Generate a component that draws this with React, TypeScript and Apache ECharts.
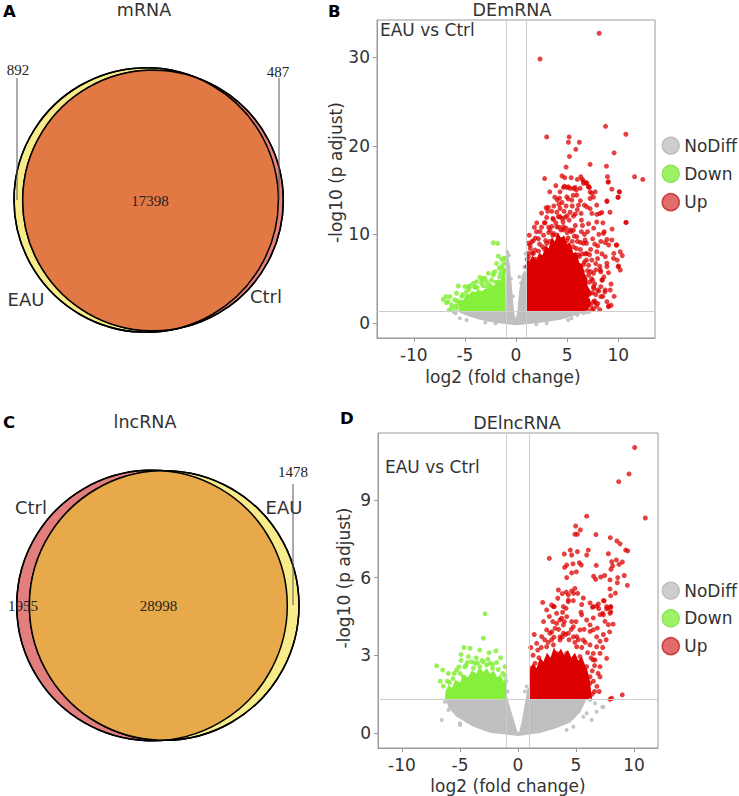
import React, { useEffect, useRef } from "react";
import * as echarts from "echarts";

const FONT = "'DejaVu Sans', 'Liberation Sans', sans-serif";
const SERIF = "'Liberation Serif', 'DejaVu Serif', serif";

// ---------- Venn data ----------
const mrnaSetNames = ["EAU", "Ctrl"];
const mrnaCounts = [892, 17398, 487]; // EAU only, both, Ctrl only
const lncSetNames = ["Ctrl", "EAU"];
const lncCounts = [1955, 28998, 1478]; // Ctrl only, both, EAU only

// ---------- labels ----------
const panelLetters = ["A", "B", "C", "D"];
const panelTitles = ["mRNA", "DEmRNA", "lncRNA", "DElncRNA"];
const comparison = "EAU vs Ctrl";
const legendNames = ["NoDiff", "Down", "Up"];
const xTicks = [-10, -5, 0, 5, 10];
const mYTicks = [0, 10, 20, 30];
const lYTicks = [0, 3, 6, 9];
const foldCut = [-1, 1];
const padjCut = 1.3;

// ---------- DEmRNA (B) ----------
const bUp: number[][] = [
  [8.14, 32.7], [2.35, 29.8], [8.76, 22.2], [10.75, 21.3], [3.0, 21.0], [5.2, 21.0], [5.13, 20.4], [6.2, 20.4],
  [5.85, 19.6], [9.6, 19.2], [5.23, 18.8], [7.25, 17.9], [4.9, 17.6], [8.85, 17.7], [2.8, 16.3], [4.77, 16.4],
  [6.0, 16.2], [6.34, 16.5], [8.95, 16.5], [9.0, 15.9], [11.6, 16.5], [12.4, 16.2], [6.6, 16.0], [6.86, 15.8],
  [4.64, 15.3], [4.97, 15.3], [5.29, 15.2], [5.78, 15.3], [7.19, 15.3], [9.38, 15.1], [6.5, 16.2], [6.93, 15.8],
  [7.1, 15.4], [6.27, 15.2], [7.25, 14.8], [7.75, 14.8], [7.58, 14.2], [10.1, 14.8], [10.0, 14.2], [8.9, 13.7],
  [2.95, 13.0], [4.03, 13.9], [4.26, 14.1], [7.25, 12.9], [8.17, 12.35], [7.9, 11.4], [10.75, 11.35], [2.03, 11.3],
  [2.85, 11.3], [8.63, 10.3], [8.9, 9.43], [9.07, 8.8], [9.8, 8.8], [9.57, 7.85], [10.4, 7.6], [9.9, 7.1],
  [10.0, 6.35], [8.9, 6.35], [7.98, 7.26], [7.8, 6.7], [8.3, 5.78], [7.58, 5.6], [8.46, 4.85], [7.98, 3.72],
  [7.25, 3.34], [8.3, 2.97], [7.58, 2.4], [9.07, 1.91], [9.3, 2.0], [1.54, 9.17], [1.7, 7.85], [1.2, 7.85],
  [2.35, 7.47], [2.03, 6.7], [1.37, 6.35], [3.0, 7.85], [2.85, 7.1], [3.66, 10.1], [3.99, 10.86], [4.31, 12.0],
  [4.64, 10.5], [4.97, 9.3], [5.62, 10.48], [4.74, 15.44], [5.13, 15.37], [5.62, 15.18], [6.6, 15.75], [7.09, 15.37],
  [9.05, 15.93], [10.13, 14.8], [9.97, 14.17], [5.95, 14.43], [7.42, 14.62], [4.97, 14.24], [5.46, 13.87], [7.25, 14.05],
  [8.89, 13.79], [3.17, 13.04], [4.31, 12.92], [6.11, 13.3], [6.93, 13.11], [8.4, 12.47], [7.91, 12.25], [10.78, 11.35],
  [2.78, 11.31], [3.66, 11.69], [4.15, 11.99], [4.8, 11.91], [5.62, 12.06], [6.37, 12.36], [7.42, 12.36], [8.56, 10.11],
  [9.38, 9.36], [8.73, 9.06], [9.87, 8.79], [10.2, 8.04], [9.54, 7.29], [10.03, 6.43], [8.73, 7.48], [8.89, 6.74],
  [8.24, 5.98], [9.05, 5.68], [10.2, 5.98], [8.4, 4.85], [8.73, 3.72], [9.22, 3.72], [9.05, 1.84], [7.75, 2.3],
  [7.09, 3.16], [7.58, 4.1], [6.6, 4.85], [1.38, 8.79], [1.87, 8.23], [1.21, 7.48], [1.05, 6.36], [2.35, 10.3],
  [3.01, 8.98], [3.33, 10.49], [3.99, 9.92], [4.64, 10.86], [5.29, 10.49], [5.95, 9.73], [6.6, 8.98], [6.93, 7.85],
  [6.76, 9.36], [7.42, 7.1], [7.91, 8.04], [3.3, 9.2], [3.8, 8.0], [4.4, 10.5], [5.0, 10.2], [5.5, 9.2],
  [5.9, 8.4], [6.2, 7.5], [6.6, 6.6], [7.0, 5.9], [7.4, 5.0], [7.7, 4.4], [8.1, 3.6], [8.5, 3.0],
  [8.0, 2.2], [7.6, 1.6], [7.2, 4.6], [6.8, 7.8], [6.3, 9.1], [5.8, 11.0], [5.3, 12.5], [4.9, 13.2],
  [4.5, 13.6], [4.0, 12.5], [3.6, 11.8], [3.2, 10.8], [2.7, 9.9], [2.3, 8.9], [1.9, 9.6], [1.4, 8.4],
  [2.6, 7.4], [3.4, 7.0], [4.6, 11.4], [5.5, 13.2], [6.0, 12.8], [6.5, 11.0], [7.0, 10.3], [7.5, 9.5],
  [8.0, 8.7], [8.4, 7.8], [6.9, 9.0], [5.1, 14.0], [5.6, 14.4], [6.3, 13.8], [5.9, 15.0], [4.3, 14.8],
  [3.8, 14.2], [3.5, 12.6], [2.5, 12.4], [6.7, 10.0], [7.3, 8.3], [7.8, 6.0], [8.6, 5.2], [9.3, 4.4],
  [8.9, 2.4], [9.6, 3.0], [6.7, 3.5], [7.0, 2.6], [6.8, 1.6], [8.2, 1.5], [6.5, 5.8], [6.1, 6.3],
  [1.1, 7.2], [1.3, 6.8], [1.6, 7.9], [1.9, 7.2], [2.2, 8.1], [2.6, 8.6], [2.9, 9.3], [3.2, 10.2],
  [3.5, 10.9], [3.9, 11.3], [4.2, 10.8], [4.5, 11.8], [4.9, 10.7], [5.2, 11.6], [5.4, 10.3], [5.7, 9.8],
  [6.0, 9.2], [6.3, 8.3], [6.5, 7.8], [6.9, 7.1], [7.1, 6.5], [7.3, 5.8], [7.5, 4.8], [7.6, 3.9],
  [7.8, 3.2], [7.7, 2.5], [7.9, 1.9], [7.4, 1.5], [8.3, 4.1], [8.7, 3.5], [8.2, 6.4], [2.0, 10.3],
  [2.5, 10.8], [3.0, 11.9], [3.7, 13.2], [4.7, 12.6], [5.0, 12.1], [5.8, 12.3], [6.4, 11.6], [7.1, 11.2],
  [7.6, 10.7], [8.1, 10.0], [8.3, 9.2], [7.7, 8.9], [7.2, 7.7], [6.4, 10.3], [2.2, 9.5], [1.3, 9.9],
  [1.8, 10.8], [3.1, 12.6], [4.2, 13.4], [3.3, 14.8], [5.4, 16.4], [4.5, 16.6], [3.9, 15.5], [6.7, 13.3],
  [7.9, 13.3], [8.5, 11.3], [9.4, 10.6], [9.2, 12.5], [1.2, 9.0], [1.7, 9.3], [2.8, 8.3], [3.6, 9.9],
  [4.4, 9.4], [5.1, 9.6], [5.6, 8.6], [6.1, 7.7], [6.7, 6.9], [7.1, 5.4], [7.5, 3.4], [7.3, 2.0],
];
const bUpCore: number[][] = [
  [1.0, 1.3], [1.0, 7.2], [1.3, 6.9], [1.6, 7.6], [2.0, 7.1], [2.3, 7.9], [2.6, 7.6], [2.9, 8.8],
  [3.2, 8.4], [3.5, 9.7], [3.8, 9.2], [4.1, 10.2], [4.4, 9.6], [4.7, 9.9], [5.0, 8.9], [5.3, 9.1],
  [5.6, 7.9], [5.9, 8.0], [6.2, 6.8], [6.5, 6.6], [6.7, 5.6], [7.0, 5.0], [7.0, 4.2], [7.3, 3.6],
  [7.1, 2.9], [7.4, 2.2], [7.1, 1.7], [7.2, 1.3],
];
const bDown: number[][] = [
  [-2.22, 9.05], [-1.8, 8.98], [-1.01, 7.26], [-1.18, 6.7], [-1.9, 6.7], [-1.41, 6.35], [-2.71, 5.6], [-2.22, 5.41],
  [-2.06, 5.78], [-3.37, 4.85], [-3.2, 5.03], [-3.86, 4.66], [-5.65, 4.17], [-4.67, 4.1], [-4.02, 4.1], [-7.12, 2.67],
  [-6.63, 2.4], [-6.86, 2.97], [-6.3, 2.03], [-5.49, 2.4], [-6.53, 1.47], [-5.82, 1.66], [-1.73, 7.55], [-1.4, 7.18],
  [-1.18, 7.29], [-1.63, 6.17], [-2.16, 5.68], [-2.39, 4.85], [-3.53, 5.15], [-3.04, 5.03], [-4.18, 4.47], [-4.51, 4.17],
  [-5.0, 4.1], [-5.82, 3.35], [-6.47, 2.97], [-6.8, 2.3], [-5.56, 2.22], [-6.31, 1.66], [-4.84, 3.54], [-4.02, 4.02],
  [-3.37, 4.47], [-2.88, 4.66], [-5.9, 1.9], [-6.0, 2.6], [-5.3, 3.0], [-2.6, 4.3], [-1.5, 5.6], [-1.2, 5.9],
  [-5.2, 3.2], [-4.6, 3.8], [-3.8, 4.0], [-3.2, 4.2], [-2.8, 4.1], [-2.0, 4.6], [-1.6, 5.2], [-1.2, 6.0],
  [-5.8, 2.5], [-5.4, 1.9],
];
const bDownCore: number[][] = [
  [-5.6, 1.3], [-5.5, 1.9], [-5.3, 2.5], [-5.1, 2.7], [-4.9, 3.3], [-4.6, 3.2], [-4.3, 3.6], [-4.0, 3.5],
  [-3.7, 3.75], [-3.3, 3.6], [-3.0, 3.9], [-2.7, 3.8], [-2.4, 4.3], [-2.1, 4.2], [-1.8, 4.9], [-1.5, 4.8],
  [-1.3, 5.7], [-1.15, 5.9], [-1.05, 6.5], [-1.0, 1.3],
];
const bGray: number[][] = [
  [-5.49, 0.53], [-4.84, 0.34], [5.1, 0.34], [5.43, 0.53], [4.77, 0.72], [6.0, 0.9], [6.6, 1.1], [7.1, 1.2],
  [-5.9, 1.1], [-0.7, 7.65], [-0.92, 6.7], [0.95, 7.85], [0.33, 5.22], [-0.5, 5.0], [-0.3, 3.0], [0.5, 4.5],
  [0.8, 6.3], [-0.85, 8.0], [3.0, -0.05], [-3.0, 0.05], [-2.0, -0.05], [2.0, -0.15], [6.9, 1.25], [-6.1, 1.25],
];
const bGrayCore: number[][] = [
  [-5.7, 1.3], [-1.0, 1.3], [-1.0, 7.3], [-0.85, 7.9], [-0.6, 6.6], [-0.4, 4.0], [-0.2, 1.4], [-0.03, 0.45],
  [0.12, 1.2], [0.3, 3.5], [0.55, 5.3], [0.85, 6.0], [1.0, 5.6], [1.0, 1.3], [6.9, 1.3], [6.3, 1.05],
  [5.5, 0.75], [4.3, 0.35], [3.0, 0.1], [1.5, -0.1], [0, -0.25], [-1.5, -0.05], [-2.5, 0.1], [-3.5, 0.35],
  [-4.5, 0.7], [-5.2, 1.0],
];

// ---------- DElncRNA (D) ----------
const dUp: number[][] = [
  [10.06, 11.02], [9.57, 10.0], [8.68, 9.7], [10.98, 8.3], [5.92, 8.37], [4.97, 7.99], [5.37, 7.84], [4.91, 7.67],
  [5.12, 7.67], [6.72, 7.66], [7.96, 7.54], [8.53, 7.41], [2.7, 6.74], [3.99, 6.91], [4.51, 7.06], [5.12, 7.0],
  [6.06, 7.06], [4.63, 6.87], [7.79, 6.92], [9.28, 7.06], [9.46, 7.03], [8.48, 6.68], [8.08, 6.61], [8.71, 6.51],
  [8.16, 6.45], [8.02, 6.32], [4.02, 6.39], [4.2, 6.48], [4.74, 6.53], [5.29, 6.57], [5.46, 6.48], [5.92, 6.87],
  [6.75, 6.47], [4.63, 6.18], [5.03, 6.22], [4.2, 6.0], [6.52, 6.05], [6.7, 5.93], [7.13, 6.02], [7.47, 6.08],
  [7.93, 5.91], [8.56, 5.8], [9.16, 6.08], [9.43, 5.7], [3.48, 5.52], [3.82, 5.38], [4.17, 5.44], [4.34, 5.33],
  [4.63, 5.48], [4.91, 5.58], [4.8, 5.39], [5.15, 5.39], [5.63, 5.21], [3.43, 5.2], [4.34, 5.13], [3.13, 4.88],
  [4.14, 4.81], [5.43, 4.66], [6.42, 4.85], [6.93, 4.98], [7.44, 5.1], [7.93, 5.56], [7.99, 5.3], [6.96, 4.8],
  [7.3, 4.62], [7.64, 4.79], [7.99, 4.88], [3.85, 4.66], [4.77, 5.11], [5.49, 4.96], [6.21, 5.02], [6.78, 4.9],
  [7.36, 5.11], [7.79, 4.83], [7.07, 4.57], [6.49, 4.44], [7.5, 4.31], [7.79, 4.18], [6.84, 4.05], [6.21, 3.92],
  [7.36, 3.8], [7.07, 3.54], [7.64, 2.88], [8.0, 4.86], [8.0, 4.68], [2.13, 5.04], [2.47, 4.75], [2.9, 4.94],
  [3.33, 4.62], [3.62, 4.36], [4.2, 4.49], [4.77, 4.1], [3.91, 3.85], [2.47, 3.98], [2.04, 3.72], [1.61, 3.46],
  [3.05, 3.4], [3.62, 3.59], [4.34, 3.85], [5.06, 3.72], [5.63, 3.59], [5.34, 3.98], [6.21, 3.4], [6.49, 3.07],
  [6.64, 2.82], [7.07, 2.56], [1.47, 2.69], [1.61, 2.17], [1.9, 1.92], [2.47, 3.33], [2.76, 3.85], [3.19, 4.04],
  [3.33, 4.23], [3.62, 3.71], [3.76, 4.43], [3.91, 4.17], [4.63, 4.3], [4.77, 3.71], [5.06, 3.33], [5.49, 4.56],
  [5.92, 4.36], [6.21, 4.17], [6.49, 3.98], [6.78, 3.71], [6.78, 3.33], [7.07, 3.07], [6.49, 2.82], [5.92, 2.56],
  [7.36, 4.56], [7.64, 4.88], [7.93, 4.62], [6.21, 1.92], [7.07, 2.17], [6.21, 2.17], [2.47, 2.82], [2.18, 2.43],
  [3.33, 3.07], [4.2, 3.07], [4.63, 2.69], [5.34, 2.95], [7.93, 1.3], [8.07, 1.34], [8.99, 1.47], [6.49, 4.88],
  [3.91, 4.88], [4.34, 5.07], [3.05, 4.88], [1.2, 2.5], [1.8, 2.9], [2.9, 3.6], [6.6, 1.6], [6.4, 2.4],
  [1.3, 3.0], [1.7, 3.2], [2.0, 3.3], [2.3, 3.6], [2.6, 3.5], [2.9, 3.9], [3.1, 3.7], [3.5, 4.0],
  [3.8, 3.7], [4.1, 3.8], [4.4, 3.6], [4.6, 4.0], [4.9, 3.5], [5.2, 3.6], [5.5, 3.3], [5.8, 3.5],
  [6.0, 3.1], [6.3, 2.9], [6.6, 2.6], [6.9, 2.3], [6.5, 2.0], [6.8, 1.8], [6.4, 1.5], [7.0, 1.6],
  [5.7, 4.0], [5.0, 4.3], [4.0, 4.3], [3.0, 4.3], [2.7, 4.5], [2.2, 4.3], [1.4, 3.8], [1.1, 3.3],
  [7.3, 3.3], [7.6, 3.6], [7.9, 3.9], [8.2, 4.2], [8.4, 5.4], [8.6, 6.0], [9.0, 6.6], [8.8, 7.3],
];
const dUpCore: number[][] = [
  [1.0, 1.3], [1.0, 2.4], [1.3, 2.7], [1.6, 2.5], [1.9, 2.9], [2.2, 2.75], [2.5, 3.1], [2.8, 2.9],
  [3.1, 3.3], [3.4, 3.05], [3.7, 3.25], [4.0, 3.0], [4.3, 3.2], [4.6, 2.9], [4.9, 3.1], [5.2, 2.8],
  [5.5, 2.95], [5.8, 2.6], [6.0, 2.4], [6.2, 2.0], [6.3, 1.6], [6.4, 1.3],
];
const dDown: number[][] = [
  [-2.84, 4.6], [-2.99, 3.66], [-4.66, 3.3], [-4.14, 3.27], [-4.91, 3.03], [-1.9, 3.17], [-4.37, 2.72], [-3.71, 2.69],
  [-7.01, 2.59], [-6.49, 2.43], [-5.29, 2.43], [-2.7, 2.62], [-2.41, 2.69], [-1.84, 2.72], [-1.12, 2.56], [-1.12, 2.2],
  [-6.44, 1.81], [-4.28, 2.95], [-3.28, 2.56], [-3.85, 2.5], [-4.71, 2.17], [-2.84, 2.17], [-2.13, 2.04], [-1.55, 1.66],
  [-1.12, 1.66], [-5.6, 2.1], [-5.0, 2.3], [-3.5, 2.7], [-2.2, 2.5], [-6.1, 2.0], [-4.5, 2.6], [-3.1, 2.8],
  [-6.0, 2.3], [-5.5, 2.3], [-5.1, 2.55], [-4.6, 2.55], [-4.0, 2.75], [-3.6, 2.9], [-3.0, 2.75], [-2.6, 2.85],
  [-2.2, 2.65], [-1.7, 2.45], [-1.3, 2.3], [-4.9, 2.8], [-3.3, 3.2], [-2.5, 3.1], [-1.5, 2.9], [-6.7, 2.0],
  [-5.9, 1.95], [-1.05, 2.0],
];
const dDownCore: number[][] = [
  [-6.3, 1.3], [-6.25, 1.6], [-6.0, 1.85], [-5.7, 1.75], [-5.4, 2.05], [-5.0, 1.95], [-4.7, 2.25], [-4.3, 2.15],
  [-4.0, 2.4], [-3.6, 2.3], [-3.3, 2.55], [-3.0, 2.35], [-2.7, 2.5], [-2.4, 2.3], [-2.1, 2.4], [-1.8, 2.15],
  [-1.5, 2.25], [-1.2, 1.95], [-1.0, 2.0], [-1.0, 1.3],
];
const dGray: number[][] = [
  [-6.58, 0.5], [-6.0, 0.89], [-5.0, 0.31], [-4.14, 0.5], [6.35, 0.5], [7.36, 1.0], [6.78, 0.82], [5.92, 0.76],
  [4.77, 0.24], [4.2, 0.12], [6.21, 1.27], [6.64, 1.15], [5.63, 0.63], [-5.0, 0.38], [7.27, 1.0], [0.75, 1.79],
  [-6.3, 1.2], [-0.9, 1.6], [0.6, 1.6],
];
const dGrayCore: number[][] = [
  [-6.2, 1.3], [-1.0, 1.3], [-0.95, 1.45], [-0.7, 1.0], [-0.35, 0.5], [-0.05, 0.05], [0.1, 0.05], [0.3, 0.4],
  [0.55, 1.0], [0.8, 1.7], [0.95, 1.75], [1.0, 1.3], [5.9, 1.3], [5.75, 1.15], [5.35, 0.78], [4.5, 0.4],
  [3.3, 0.18], [1.9, 0.0], [0, -0.12], [-2.4, 0.01], [-3.85, 0.24], [-5.3, 0.63], [-6.0, 0.97],
];

// ---------- colours ----------
const C_GRAY = "#BFBFBF";
const C_GREEN = "#86EF3C";
const C_RED = "#DE0000";

type Circle = { cx: number; cy: number; r: number };

function lensPoints(a: Circle, b: Circle): number[][] {
  const pts: number[][] = [];
  const add = (p: Circle, q: Circle) => {
    for (let i = 0; i < 720; i++) {
      const t = (i / 720) * Math.PI * 2;
      const x = p.cx + p.r * Math.cos(t);
      const y = p.cy + p.r * Math.sin(t);
      if (Math.hypot(x - q.cx, y - q.cy) <= q.r + 0.01) pts.push([x, y]);
    }
  };
  add(a, b);
  add(b, a);
  const mx = pts.reduce((s, p) => s + p[0], 0) / pts.length;
  const my = pts.reduce((s, p) => s + p[1], 0) / pts.length;
  pts.sort((p, q) => Math.atan2(p[1] - my, p[0] - mx) - Math.atan2(q[1] - my, q[0] - mx));
  return pts;
}

function venn(left: Circle, right: Circle, leftFill: string, rightFill: string, midFill: string, z0: number) {
  return [
    { type: "circle", z: z0, shape: left, style: { fill: leftFill, stroke: "#000", lineWidth: 1.5 } },
    { type: "circle", z: z0 + 1, shape: right, style: { fill: rightFill, stroke: "#000", lineWidth: 1.5 } },
    { type: "polygon", z: z0 + 2, shape: { points: lensPoints(left, right) }, style: { fill: midFill } },
    { type: "circle", z: z0 + 3, shape: left, style: { fill: "none", stroke: "#000", lineWidth: 1.5 } },
    { type: "circle", z: z0 + 3, shape: right, style: { fill: "none", stroke: "#000", lineWidth: 1.5 } },
  ];
}

function txt(text: string, x: number, y: number, opts: any = {}) {
  return {
    type: "text",
    z: 20,
    x,
    y,
    style: {
      text,
      fontSize: opts.size ?? 17,
      fontFamily: opts.family ?? FONT,
      fontWeight: opts.weight ?? "normal",
      fill: opts.fill ?? "#333",
      align: opts.align ?? "center",
      verticalAlign: "middle",
    },
  };
}

function vline(x: number, y1: number, y2: number) {
  return { type: "line", z: 19, shape: { x1: x, y1, x2: x, y2 }, style: { stroke: "#555", lineWidth: 1 } };
}

function hull(name: string, data: number[][], idx: number, color: string) {
  return {
    type: "custom",
    name,
    xAxisIndex: idx,
    yAxisIndex: idx,
    clip: true,
    silent: true,
    z: 1,
    data,
    encode: { x: 0, y: 1 },
    renderItem: (params: any, api: any) => {
      if (params.dataIndex !== 0) return null;
      const points = data.map((p) => api.coord(p));
      return { type: "polygon", shape: { points }, style: { fill: color } };
    },
  };
}

function dots(name: string, data: number[][], idx: number, color: string, opacity: number, size: number, extra: any = {}) {
  return {
    type: "scatter",
    name,
    xAxisIndex: idx,
    yAxisIndex: idx,
    data,
    symbolSize: size,
    silent: true,
    z: 3,
    itemStyle: { color, opacity },
    ...extra,
  };
}

function cutLines() {
  return {
    silent: true,
    symbol: ["none", "none"],
    label: { show: false },
    lineStyle: { color: "#CDCDCD", width: 1, type: "solid" },
    data: [...foldCut.map((v) => ({ xAxis: v })), { yAxis: padjCut }],
  };
}

function xAxisCfg(idx: number, min: number, max: number, nameGap: number, shift: number) {
  return {
    gridIndex: idx,
    type: "value",
    min,
    max,
    name: "log2 (fold change)",
    nameLocation: "middle",
    nameGap,
    nameTextStyle: { fontSize: 17, color: "#333", fontFamily: FONT, padding: [0, shift, 0, 0] },
    axisLine: { show: true, onZero: false, lineStyle: { color: "#9A9A9A" } },
    axisTick: { show: true, length: 4, lineStyle: { color: "#9A9A9A" }, customValues: xTicks },
    axisLabel: { fontSize: 17, color: "#333", fontFamily: FONT, margin: 8, customValues: xTicks },
    splitLine: { show: false },
  };
}

function yAxisCfg(idx: number, min: number, max: number, ticks: number[], shift: number) {
  return {
    gridIndex: idx,
    type: "value",
    min,
    max,
    name: "-log10 (p adjust)",
    nameLocation: "middle",
    nameGap: 26,
    nameTextStyle: { fontSize: 17, color: "#333", fontFamily: FONT, padding: [0, 0, 0, shift] },
    axisLine: { show: true, onZero: false, lineStyle: { color: "#9A9A9A" } },
    axisTick: { show: true, length: 4, lineStyle: { color: "#9A9A9A" }, customValues: ticks },
    axisLabel: { fontSize: 17, color: "#333", fontFamily: FONT, margin: 7, customValues: ticks },
    splitLine: { show: false },
  };
}

const legendItemStyles = [
  { color: "#C8C8C8", borderColor: "#B4B4B4", borderWidth: 1.2 },
  { color: "#8CF04C", borderColor: "#78DC38", borderWidth: 1.2 },
  { color: "#D83A3A", borderColor: "#BE1A1A", borderWidth: 1.5 },
];

function legendCfg(top: number, gap: number) {
  return {
    orient: "vertical",
    left: 661.5,
    top,
    padding: 0,
    icon: "circle",
    itemWidth: 17,
    itemHeight: 17,
    itemGap: gap,
    selectedMode: false,
    textStyle: { fontSize: 17, color: "#333", fontFamily: FONT },
    data: legendNames.map((n, i) => ({ name: n, itemStyle: legendItemStyles[i] })),
  };
}

export default function App() {
  const ref = useRef<HTMLDivElement>(null);
  useEffect(() => {
    if (!ref.current) return;
    const chart = echarts.init(ref.current, null, { renderer: "svg" });

    const aL: Circle = { cx: 146.2, cy: 200, r: 132.2 }; // EAU
    const aR: Circle = { cx: 153, cy: 200.5, r: 130.3 }; // Ctrl
    const cL: Circle = { cx: 152, cy: 605.5, r: 135.3 }; // Ctrl
    const cR: Circle = { cx: 164.2, cy: 605.5, r: 134.8 }; // EAU

    const graphic: any[] = [
      ...venn(aL, aR, "#F8EC8A", "#E6837D", "#E27843", 5),
      ...venn(cL, cR, "#E27F7C", "#F8EC8A", "#E8A94A", 5),
      vline(17, 78, 200),
      vline(279, 78, 200),
      vline(293, 484, 605),
      txt(panelLetters[0], 3, 11, { weight: "bold", size: 16.5, fill: "#000", align: "left" }),
      txt(panelLetters[1], 328, 11, { weight: "bold", size: 16.5, fill: "#000", align: "left" }),
      txt(panelLetters[2], 3, 422, { weight: "bold", size: 16.5, fill: "#000", align: "left" }),
      txt(panelLetters[3], 340, 418, { weight: "bold", size: 16.5, fill: "#000", align: "left" }),
      txt(panelTitles[0], 144, 10, { size: 17.5 }),
      txt(panelTitles[1], 512, 10, { size: 17.5 }),
      txt(panelTitles[2], 145, 422, { size: 17.5 }),
      txt(panelTitles[3], 517, 423, { size: 17.5 }),
      txt(comparison, 380, 30, { align: "left" }),
      txt(comparison, 385, 467, { align: "left" }),
      txt(String(mrnaCounts[0]), 18, 70, { family: SERIF, size: 15, fill: "#222" }),
      txt(String(mrnaCounts[1]), 150, 201, { family: SERIF, size: 15, fill: "#222" }),
      txt(String(mrnaCounts[2]), 278, 71.5, { family: SERIF, size: 15, fill: "#222" }),
      txt(mrnaSetNames[0], 26, 299, { size: 18 }),
      txt(mrnaSetNames[1], 266, 296, { size: 18 }),
      txt(String(lncCounts[0]), 23, 606, { family: SERIF, size: 15, fill: "#222" }),
      txt(String(lncCounts[1]), 158.5, 606, { family: SERIF, size: 15, fill: "#222" }),
      txt(String(lncCounts[2]), 293, 472, { family: SERIF, size: 15, fill: "#222" }),
      txt(lncSetNames[0], 31, 507, { size: 18 }),
      txt(lncSetNames[1], 284, 507, { size: 18 }),
    ];

    const option: any = {
      animation: false,
      backgroundColor: "#fff",
      grid: [
        { left: 377, top: 20, width: 278, height: 318, show: true, borderColor: "#9A9A9A", borderWidth: 1 },
        { left: 378, top: 433, width: 280, height: 315, show: true, borderColor: "#9A9A9A", borderWidth: 1 },
      ],
      xAxis: [xAxisCfg(0, -13.6, 13.6, 30, 26), xAxisCfg(1, -12.07, 12.07, 29, 20)],
      yAxis: [yAxisCfg(0, -1.7, 34.2, mYTicks, 13), yAxisCfg(1, -0.58, 11.58, lYTicks, 25)],
      legend: [legendCfg(136.5, 10), legendCfg(581.5, 9.5)],
      graphic,
      series: [
        dots("NoDiff", bGray, 0, C_GRAY, 0.9, 4, { z: 2, markLine: cutLines() }),
        dots("Down", bDown, 0, C_GREEN, 0.85, 5),
        dots("Up", bUp, 0, C_RED, 0.75, 5),
        hull("NoDiff", bGrayCore, 0, C_GRAY),
        hull("Down", bDownCore, 0, C_GREEN),
        hull("Up", bUpCore, 0, C_RED),
        dots("NoDiff", dGray, 1, C_GRAY, 0.9, 4, { z: 2, markLine: cutLines() }),
        dots("Down", dDown, 1, C_GREEN, 0.85, 5),
        dots("Up", dUp, 1, C_RED, 0.75, 5),
        hull("NoDiff", dGrayCore, 1, C_GRAY),
        hull("Down", dDownCore, 1, C_GREEN),
        hull("Up", dUpCore, 1, C_RED),
      ],
    };
    chart.setOption(option);
    return () => chart.dispose();
  }, []);

  return <div ref={ref} style={{ position: "fixed", left: 0, top: 0, width: 739, height: 796 }} />;
}
